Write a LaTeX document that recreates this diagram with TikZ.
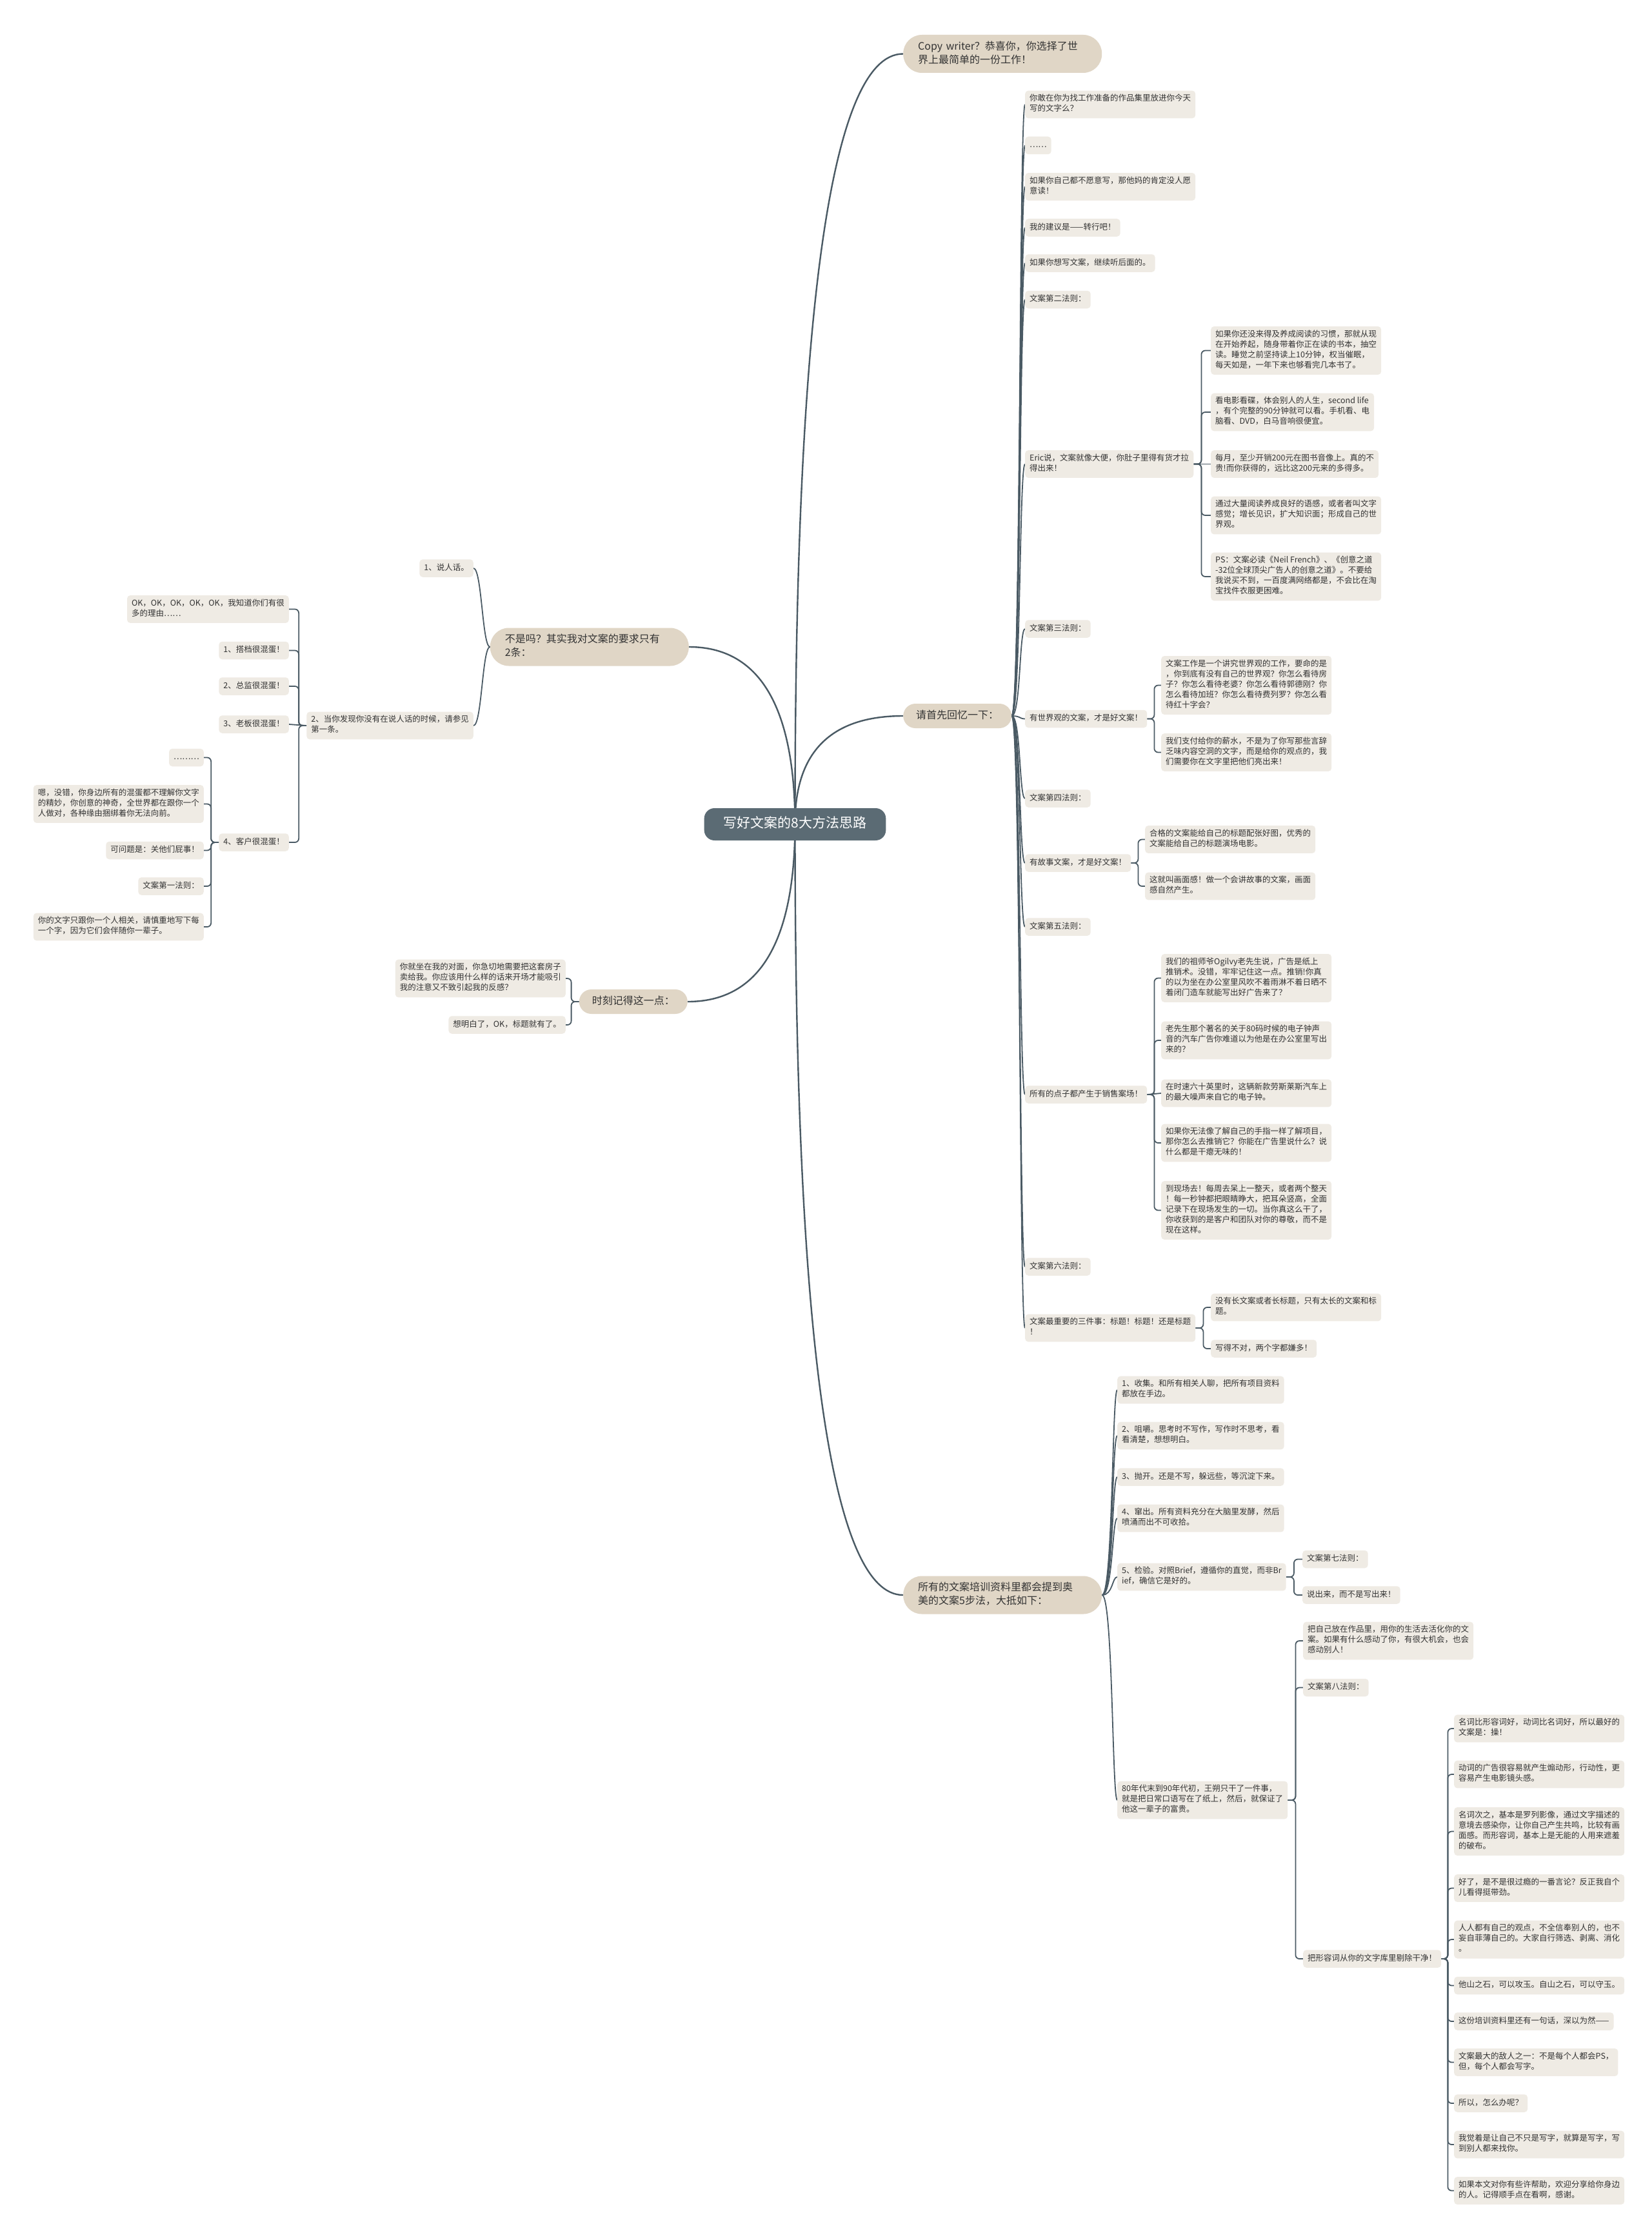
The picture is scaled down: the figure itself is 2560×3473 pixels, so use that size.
\documentclass[tikz,border=0pt]{standalone}
\usepackage{tikz}
\usepackage{fontspec}
\setmainfont{Noto Sans CJK SC}
\definecolor{leafc}{HTML}{EFEBE4}
\definecolor{mainc}{HTML}{E0D6C6}
\definecolor{rootc}{HTML}{5B6B74}
\definecolor{linec}{HTML}{4A5A64}
\definecolor{txt}{HTML}{333333}
\pgfdeclarelayer{bg}
\pgfdeclarelayer{paper}
\pgfsetlayers{paper,bg,main}
\tikzset{
  leaf/.style={fill=leafc, text=txt, rounded corners=5pt, inner xsep=7pt, inner ysep=5.75pt,
    align=left, font=\fontsize{12.5}{16}\selectfont,
    execute at begin node=\strut, execute at end node=\strut},
  rleaf/.style={leaf, anchor=west},
  lleaf/.style={leaf, anchor=east},
  mainn/.style={fill=mainc, text=txt, rounded corners=19pt, inner xsep=20pt, inner ysep=8.5pt,
    align=left, font=\fontsize{16}{21}\selectfont,
    execute at begin node=\strut, execute at end node=\strut},
  maintwo/.style={mainn, rounded corners=29pt, text width=262pt, inner xsep=23pt},
  rootn/.style={fill=rootc, text=white, rounded corners=16pt, inner xsep=30pt, inner ysep=12pt,
    font=\fontsize{21}{26}\selectfont, execute at begin node=\strut},
  rlink/.style={draw=linec, line width=2.4pt},
  clink/.style={draw=linec, line width=1.8pt},
  blink/.style={draw=linec, line width=1.8pt, rounded corners=6pt},
}
\begin{document}
\begin{tikzpicture}[x=1pt,y=-1pt]
\begin{pgfonlayer}{paper}
\fill[white] (0,0) rectangle (2560,3473);
\end{pgfonlayer}
\useasboundingbox (0,0) rectangle (2560,3473);

% root and main branches
\node[rootn] (root) at (1232.5,1278) {写好文案的8大方法思路};
\node[maintwo, anchor=west] (cw) at (1400,83.5) {Copy writer？恭喜你，你选择了世\\界上最简单的一份工作！};
\node[mainn, anchor=west] (rc) at (1400,1110) {请首先回忆一下：};
\node[maintwo, anchor=west] (steps) at (1400,2473) {所有的文案培训资料里都会提到奥\\美的文案5步法，大抵如下：};
\node[maintwo, anchor=east] (req) at (1068,1003) {不是吗？其实我对文案的要求只有\\2条：};
\node[mainn, anchor=east] (rem) at (1066,1553) {时刻记得这一点：};

% branch: 请首先回忆一下
\node[rleaf] (a1) at (1589,162) {你敢在你为找工作准备的作品集里放进你今天\\写的文字么？};
\node[rleaf] (a2) at (1589,225.5) {……};
\node[rleaf] (a3) at (1589,289.5) {如果你自己都不愿意写，那他妈的肯定没人愿\\意读！};
\node[rleaf] (a4) at (1589,353) {我的建议是——转行吧！};
\node[rleaf] (a5) at (1589,408) {如果你想写文案，继续听后面的。};
\node[rleaf] (a6) at (1589,464.5) {文案第二法则：};
\node[rleaf] (eric) at (1589,719.5) {Eric说，文案就像大便，你肚子里得有货才拉\\得出来！};
\node[rleaf] (e1) at (1877,543.5) {如果你还没来得及养成阅读的习惯，那就从现\\在开始养起，随身带着你正在读的书本，抽空\\读。睡觉之前坚持读上10分钟，权当催眠，\\每天如是，一年下来也够看完几本书了。};
\node[rleaf] (e2) at (1877,639) {看电影看碟，体会别人的人生，second life\\，有个完整的90分钟就可以看。手机看、电\\脑看、DVD，白马音响很便宜。};
\node[rleaf] (e3) at (1877,719.5) {每月，至少开销200元在图书音像上。真的不\\贵!而你获得的，远比这200元来的多得多。};
\node[rleaf] (e4) at (1877,799) {通过大量阅读养成良好的语感，或者者叫文字\\感觉；增长见识，扩大知识面；形成自己的世\\界观。};
\node[rleaf] (e5) at (1877,894) {PS：文案必读《Neil French》、《创意之道\\-32位全球顶尖广告人的创意之道》。不要给\\我说买不到，一百度满网络都是，不会比在淘\\宝找件衣服更困难。};
\node[rleaf] (law3) at (1589,975) {文案第三法则：};
\node[rleaf] (world) at (1589,1114.5) {有世界观的文案，才是好文案！};
\node[rleaf] (w1) at (1800,1062.5) {文案工作是一个讲究世界观的工作，要命的是\\，你到底有没有自己的世界观？你怎么看待房\\子？你怎么看待老婆？你怎么看待郭德刚？你\\怎么看待加班？你怎么看待费列罗？你怎么看\\待红十字会？};
\node[rleaf] (w2) at (1800,1166.5) {我们支付给你的薪水，不是为了你写那些言辞\\乏味内容空洞的文字，而是给你的观点的，我\\们需要你在文字里把他们亮出来！};
\node[rleaf] (law4) at (1589,1238) {文案第四法则：};
\node[rleaf] (story) at (1589,1338) {有故事文案，才是好文案！};
\node[rleaf] (st1) at (1775,1301.5) {合格的文案能给自己的标题配张好图，优秀的\\文案能给自己的标题演场电影。};
\node[rleaf] (st2) at (1775,1374) {这就叫画面感！做一个会讲故事的文案，画面\\感自然产生。};
\node[rleaf] (law5) at (1589,1437) {文案第五法则：};
\node[rleaf] (sales) at (1589,1697) {所有的点子都产生于销售案场！};
\node[rleaf] (sa1) at (1800,1516.5) {我们的祖师爷Ogilvy老先生说，广告是纸上\\推销术。没错，牢牢记住这一点。推销!你真\\的以为坐在办公室里风吹不着雨淋不着日晒不\\着闭门造车就能写出好广告来了？};
\node[rleaf] (sa2) at (1800,1613) {老先生那个著名的关于80码时候的电子钟声\\音的汽车广告你难道以为他是在办公室里写出\\来的？};
\node[rleaf] (sa3) at (1800,1695) {在时速六十英里时，这辆新款劳斯莱斯汽车上\\的最大噪声来自它的电子钟。};
\node[rleaf] (sa4) at (1800,1772) {如果你无法像了解自己的手指一样了解项目，\\那你怎么去推销它？你能在广告里说什么？说\\什么都是干瘪无味的！};
\node[rleaf] (sa5) at (1800,1876.5) {到现场去！每周去呆上一整天，或者两个整天\\！每一秒钟都把眼睛睁大，把耳朵竖高，全面\\记录下在现场发生的一切。当你真这么干了，\\你收获到的是客户和团队对你的尊敬，而不是\\现在这样。};
\node[rleaf] (law6) at (1589,1964) {文案第六法则：};
\node[rleaf] (title) at (1589,2059) {文案最重要的三件事：标题！标题！还是标题\\！};
\node[rleaf] (ti1) at (1877,2027) {没有长文案或者长标题，只有太长的文案和标\\题。};
\node[rleaf] (ti2) at (1877,2091) {写得不对，两个字都嫌多！};

% branch: 5 steps
\node[rleaf] (p1) at (1732,2155) {1、收集。和所有相关人聊，把所有项目资料\\都放在手边。};
\node[rleaf] (p2) at (1732,2226) {2、咀嚼。思考时不写作，写作时不思考，看\\看清楚，想想明白。};
\node[rleaf] (p3) at (1732,2290) {3、抛开。还是不写，躲远些，等沉淀下来。};
\node[rleaf] (p4) at (1732,2354) {4、窜出。所有资料充分在大脑里发酵，然后\\喷涌而出不可收拾。};
\node[rleaf] (p5) at (1732,2445) {5、检验。对照Brief，遵循你的直觉，而非Br\\ief，确信它是好的。};
\node[rleaf] (p5a) at (2019,2417.5) {文案第七法则：};
\node[rleaf] (p5b) at (2019,2473) {说出来，而不是写出来！};
\node[rleaf] (p6) at (1732,2791) {80年代末到90年代初，王朔只干了一件事，\\就是把日常口语写在了纸上，然后，就保证了\\他这一辈子的富贵。};
\node[rleaf] (q1) at (2020,2544) {把自己放在作品里，用你的生活去活化你的文\\案。如果有什么感动了你，有很大机会，也会\\感动别人！};
\node[rleaf] (q2) at (2020,2616.5) {文案第八法则：};
\node[rleaf] (q3) at (2020,3037) {把形容词从你的文字库里剔除干净！};
\node[rleaf] (r1) at (2254,2680) {名词比形容词好，动词比名词好，所以最好的\\文案是：操！};
\node[rleaf] (r2) at (2254,2751) {动词的广告很容易就产生煽动形，行动性，更\\容易产生电影镜头感。};
\node[rleaf] (r3) at (2254,2839.5) {名词次之，基本是罗列影像，通过文字描述的\\意境去感染你，让你自己产生共鸣，比较有画\\面感。而形容词，基本上是无能的人用来遮羞\\的破布。};
\node[rleaf] (r4) at (2254,2927.5) {好了，是不是很过瘾的一番言论？反正我自个\\儿看得挺带劲。};
\node[rleaf] (r5) at (2254,3007) {人人都有自己的观点，不全信奉别人的，也不\\妄自菲薄自己的。大家自行筛选、剥离、消化\\。};
\node[rleaf] (r6) at (2254,3078.5) {他山之石，可以攻玉。自山之石，可以守玉。};
\node[rleaf] (r7) at (2254,3134) {这份培训资料里还有一句话，深以为然——};
\node[rleaf] (r8) at (2254,3197.5) {文案最大的敌人之一：不是每个人都会PS，\\但，每个人都会写字。};
\node[rleaf] (r9) at (2254,3261) {所以，怎么办呢？};
\node[rleaf] (r10) at (2254,3325) {我觉着是让自己不只是写字，就算是写字，写\\到别人都来找你。};
\node[rleaf] (r11) at (2254,3396.5) {如果本文对你有些许帮助，欢迎分享给你身边\\的人。记得顺手点在看啊，感谢。};

% branch: 不是吗
\node[lleaf] (rq1) at (734,881) {1、说人话。};
\node[lleaf] (rq2) at (734,1125) {2、当你发现你没有在说人话的时候，请参见\\第一条。};
\node[lleaf] (t1) at (448,944.5) {OK，OK，OK，OK，OK，我知道你们有很\\多的理由……};
\node[lleaf] (t2) at (448,1008.5) {1、搭档很混蛋！};
\node[lleaf] (t3) at (448,1064) {2、总监很混蛋！};
\node[lleaf] (t4) at (448,1123) {3、老板很混蛋！};
\node[lleaf] (t5) at (448,1306) {4、客户很混蛋！};
\node[lleaf] (u1) at (316,1174.5) {………};
\node[lleaf] (u2) at (316,1246.5) {嗯，没错，你身边所有的混蛋都不理解你文字\\的精妙，你创意的神奇，全世界都在跟你一个\\人做对，各种缘由捆绑着你无法向前。};
\node[lleaf] (u3) at (316,1318.5) {可问题是：关他们屁事！};
\node[lleaf] (u4) at (316,1374) {文案第一法则：};
\node[lleaf] (u5) at (316,1437) {你的文字只跟你一个人相关，请慎重地写下每\\一个字，因为它们会伴随你一辈子。};

% branch: 时刻记得
\node[lleaf] (v1) at (877,1517) {你就坐在我的对面，你急切地需要把这套房子\\卖给我。你应该用什么样的话来开场才能吸引\\我的注意又不致引起我的反感？};
\node[lleaf] (v2) at (877,1589) {想明白了，OK，标题就有了。};

\begin{pgfonlayer}{bg}
% root links
\draw[rlink] (root.center) .. controls (1232,482) and (1288,83.5) .. (cw.west);
\draw[rlink] (root.center) .. controls (1232,1166) and (1288,1110) .. (rc.west);
\draw[rlink] (root.center) .. controls (1232,2075) and (1288,2473) .. (steps.west);
\draw[rlink] (root.center) .. controls (1232,1095) and (1177,1003) .. (req.east);
\draw[rlink] (root.center) .. controls (1232,1461) and (1177,1553) .. (rem.east);
% level 2
\foreach \n in {a1,a2,a3,a4,a5,a6,eric,law3,world,law4,story,law5,sales,law6,title}
  \draw[clink] (rc.east) .. controls +(14,0) and +(-9,0) .. (\n.west);
\foreach \n in {p1,p2,p3,p4,p5,p6}
  \draw[clink] (steps.east) .. controls +(17,0) and +(-8,0) .. (\n.west);
\foreach \n in {rq1,rq2}
  \draw[clink] (req.west) .. controls +(-12,0) and +(13,0) .. (\n.east);
% brackets right
\foreach \n in {e1,e2,e4,e5}
  \draw[blink] (eric.east) -- ++(12,0) |- (\n.west);
\draw[clink] (eric.east) -- (e3.west);
\foreach \n in {w1,w2}
  \draw[blink] (world.east) -- ++(11,0) |- (\n.west);
\foreach \n in {st1,st2}
  \draw[blink] (story.east) -- ++(11,0) |- (\n.west);
\foreach \n in {sa1,sa2,sa4,sa5}
  \draw[blink] (sales.east) -- ++(11,0) |- (\n.west);
\draw[clink] (sales.east) -- (sa3.west);
\foreach \n in {ti1,ti2}
  \draw[blink] (title.east) -- ++(12,0) |- (\n.west);
\foreach \n in {p5a,p5b}
  \draw[blink] (p5.east) -- ++(12,0) |- (\n.west);
\foreach \n in {q1,q2,q3}
  \draw[blink] (p6.east) -- ++(12,0) |- (\n.west);
\foreach \n in {r1,r2,r3,r4,r5,r6,r7,r8,r9,r10,r11}
  \draw[blink] (q3.east) -- ++(10,0) |- (\n.west);
% brackets left
\foreach \n in {t1,t2,t3,t5}
  \draw[blink] (rq2.west) -- ++(-12,0) |- (\n.east);
\draw[clink] (rq2.west) -- (t4.east);
\foreach \n in {u1,u2,u3,u4,u5}
  \draw[blink] (t5.west) -- ++(-12,0) |- (\n.east);
\foreach \n in {v1,v2}
  \draw[blink] (rem.west) -- ++(-12,0) |- (\n.east);
\end{pgfonlayer}
\end{tikzpicture}
\end{document}
